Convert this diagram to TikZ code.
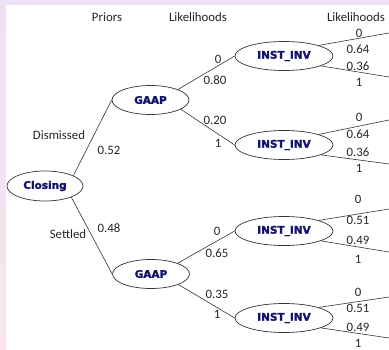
\documentclass[tikz,border=0pt]{standalone}
\usepackage{fontspec}
\setmainfont{Carlito}
\newfontfamily\nodefont{DejaVu Sans Bold}[FakeBold=2]
\usetikzlibrary{shapes.geometric}
\definecolor{navy}{HTML}{14146E}
\definecolor{stripA}{HTML}{ECE2F4}
\definecolor{stripB}{HTML}{FBE4EE}
\definecolor{edgegray}{HTML}{333333}
\tikzset{
  chance/.style={ellipse, draw=edgegray, line width=0.7pt, fill=white,
    inner sep=0pt, font=\nodefont\fontsize{10.5}{12}\selectfont, text=navy},
  gaapnode/.style={chance, minimum width=77pt, minimum height=29pt},
  instnode/.style={chance, minimum width=98pt, minimum height=29pt},
  branch/.style={draw=edgegray, line width=0.6pt},
  lbl/.style={font=\fontsize{12.8}{15}\selectfont, inner sep=0pt, text=black!85}
}
\begin{document}
\begin{tikzpicture}[x=1pt, y=-1pt]
  % page and side strips
  \useasboundingbox (0,0) rectangle (389,349);
  \fill[white] (0,0) rectangle (389,349);
  \shade[top color=stripA, bottom color=stripB] (0,0) rectangle (6,349);
  \fill[stripA] (0,0) rectangle (389,5);

  % column headings
  \node[lbl] (hpri) at (107,17) {Priors};
  \node[lbl] (hlik1) at (198,17) {Likelihoods};
  \node[lbl] (hlik2) at (356,17) {Likelihoods};

  % tree nodes
  \node[chance, minimum width=76pt, minimum height=30pt] (closing) at (45,186) {Closing};
  \node[gaapnode] (g1) at (150.5,100) {GAAP};
  \node[gaapnode] (g2) at (151,274) {GAAP};
  \node[instnode] (i1) at (284,56) {INST\_INV};
  \node[instnode] (i2) at (284,145) {INST\_INV};
  \node[instnode] (i3) at (284,231) {INST\_INV};
  \node[instnode] (i4) at (284,318) {INST\_INV};

  % free ends of the outcome branches
  \coordinate (e1a) at (389,33);  \coordinate (e1b) at (389,77);
  \coordinate (e2a) at (389,120); \coordinate (e2b) at (389,164);
  \coordinate (e3a) at (389,209); \coordinate (e3b) at (389,252);
  \coordinate (e4a) at (389,297); \coordinate (e4b) at (389,338);

  % branches
  \draw[branch] (closing.20) -- (g1.west);
  \draw[branch] (closing.-23) -- (g2.west);
  \draw[branch] (g1.21) -- (i1.west);
  \draw[branch] (g1.-17) -- (i2.west);
  \draw[branch] (g2.22) -- (i3.west);
  \draw[branch] (g2.-21) -- (i4.west);
  \foreach \n in {1,2,3,4}{
    \draw[branch] (i\n.17) -- (e\n a);
    \draw[branch] (i\n.-15) -- (e\n b);
  }

  % branch labels
  \node[lbl] (ldis) at (59,135) {Dismissed};
  \node[lbl] (p52) at (109,150) {0.52};
  \node[lbl] (lset) at (68,234) {Settled};
  \node[lbl] (p48) at (109,228) {0.48};

  \node[lbl] (a0) at (218,59) {0};
  \node[lbl] (a80) at (215,80) {0.80};
  \node[lbl] (a20) at (215,120) {0.20};
  \node[lbl] (a1) at (218,143) {1};
  \node[lbl] (b0) at (217,231) {0};
  \node[lbl] (b65) at (217,253) {0.65};
  \node[lbl] (b35) at (217,294) {0.35};
  \node[lbl] (b1) at (217,314) {1};

  \node[lbl] (c10) at (359,33) {0};
  \node[lbl] (c1a) at (358,49) {0.64};
  \node[lbl] (c1b) at (358,66) {0.36};
  \node[lbl] (c11) at (359,82) {1};
  \node[lbl] (c20) at (359,117) {0};
  \node[lbl] (c2a) at (358,134) {0.64};
  \node[lbl] (c2b) at (358,152) {0.36};
  \node[lbl] (c21) at (359,168) {1};
  \node[lbl] (c30) at (358,199) {0};
  \node[lbl] (c3a) at (358,220) {0.51};
  \node[lbl] (c3b) at (358,240) {0.49};
  \node[lbl] (c31) at (358,259) {1};
  \node[lbl] (c40) at (358,292) {0};
  \node[lbl] (c4a) at (358,308) {0.51};
  \node[lbl] (c4b) at (358,327) {0.49};
  \node[lbl] (c41) at (358,343) {1};
\end{tikzpicture}
\end{document}
